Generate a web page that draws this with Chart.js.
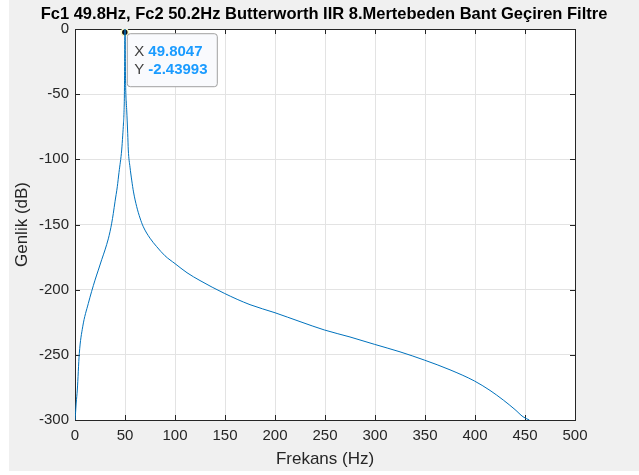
<!DOCTYPE html>
<html>

<head>
    <meta charset='utf-8'>
    <title>Butterworth IIR Bant Geciren Filtre</title>
    <script src="https://cdn.jsdelivr.net/npm/chart.js@4.4.0/dist/chart.umd.min.js"></script>
    <style>
        body { margin: 0; background: #fff; }
        canvas { display: block; }
    </style>
</head>

<body>
    <canvas id="myChart" width="639" height="475" style="width:639px;height:475px"></canvas>
    <script>
        const ctx = document.getElementById('myChart').getContext('2d');

        // genlik yaniti
        const frekans = [0, 0.5, 1.2, 2.3, 4.3, 7.7, 13.3, 20, 23.3, 26.7, 30, 33.3, 35, 36.7, 38.3, 40, 42.3, 44,
            46.7, 47.7, 48.5, 49, 49.4, 49.65, 49.8047, 50, 50.2, 50.35, 50.7, 51.2, 51.7, 52.7, 53.3, 55, 56.7,
            58.5, 61.7, 65, 68.3, 75, 81.7, 90, 100, 112, 125, 149.3, 175, 200, 225, 249.3, 275, 299.3, 325, 349.3,
            375, 399.3, 415, 428.3, 440, 448, 454.3];
        const genlik = [-300, -295, -287, -277, -249, -228.5, -210.6, -192.7, -185, -177, -169.5, -161, -155.5,
            -149, -141.5, -132.5, -121, -110, -92.8, -82, -72, -64, -50, -25, -2.44, -0.05, -3.1, -25, -45, -55,
            -62, -80, -92.8, -106, -115.9, -125, -136.3, -145, -151.7, -160.5, -167, -174, -180, -187, -193, -202.8,
            -211.5, -217.7, -224.5, -230.9, -236.3, -241.9, -247.7, -254, -261.5, -270, -277.3, -284.7, -292,
            -297.5, -300];

        // veri ipucu (data tip)
        const tipX = 49.8047;
        const tipY = -2.43993;
        const tipLabels = ['49.8047', '-2.43993'];

        const baslik = 'Fc1 49.8Hz, Fc2 50.2Hz Butterworth IIR 8.Mertebeden Bant Geçiren Filtre';
        const xBaslik = 'Frekans (Hz)';
        const yBaslik = 'Genlik (dB)';

        const fontAdi = "'Liberation Sans', Arial, sans-serif";
        const yaziRengi = '#262626';

        const matlabPlugin = {
            id: 'matlab',
            beforeDraw(chart) {
                const c = chart.ctx;
                const a = chart.chartArea;
                c.save();
                c.fillStyle = '#f0f0f0';
                c.fillRect(9, 0, 630, 471);
                c.fillStyle = '#ffffff';
                c.fillRect(a.left, a.top, a.right - a.left, a.bottom - a.top);
                c.restore();
            },
            beforeDatasetsDraw(chart) {
                // iceri bakan tick cizgileri, dort kenarda
                const c = chart.ctx;
                const a = chart.chartArea;
                const xs = chart.scales.x, ys = chart.scales.y;
                c.save();
                c.strokeStyle = yaziRengi;
                c.lineWidth = 1;
                c.beginPath();
                xs.ticks.forEach(t => {
                    const px = Math.round(xs.getPixelForValue(t.value)) + 0.5;
                    c.moveTo(px, a.bottom); c.lineTo(px, a.bottom - 5);
                    c.moveTo(px, a.top); c.lineTo(px, a.top + 5);
                });
                ys.ticks.forEach(t => {
                    const py = Math.round(ys.getPixelForValue(t.value)) + 0.5;
                    c.moveTo(a.left, py); c.lineTo(a.left + 5, py);
                    c.moveTo(a.right, py); c.lineTo(a.right - 5, py);
                });
                c.stroke();
                c.restore();
            },
            afterDraw(chart) {
                const c = chart.ctx;
                const px = chart.scales.x.getPixelForValue(tipX);
                const py = chart.scales.y.getPixelForValue(tipY);
                const bx = px + 2, by = py + 1, bw = 90, bh = 53;
                c.save();
                c.beginPath();
                c.roundRect(bx + 0.5, by + 0.5, bw, bh, 3);
                c.fillStyle = '#f9fafd';
                c.fill();
                c.strokeStyle = '#a0a0a0';
                c.lineWidth = 1;
                c.stroke();
                c.textBaseline = 'middle';
                ['X', 'Y'].forEach((k, i) => {
                    const ty = by + 18.5 + i * 18;
                    c.font = '15px ' + fontAdi;
                    c.fillStyle = '#404040';
                    c.fillText(k, bx + 7.5, ty);
                    c.font = 'bold 15px ' + fontAdi;
                    c.fillStyle = '#1a9bff';
                    c.fillText(tipLabels[i], bx + 21.5, ty);
                });
                c.restore();
            }
        };

        const myChart = new Chart(ctx, {
            type: 'line',
            data: {
                datasets: [{
                    label: 'genlik',
                    data: frekans.map((f, i) => ({ x: f, y: genlik[i] })),
                    borderColor: '#0072bd',
                    borderWidth: 1,
                    pointRadius: 0,
                    cubicInterpolationMode: 'monotone',
                    fill: false,
                }, {
                    label: 'tip',
                    data: [{ x: tipX, y: tipY }],
                    showLine: false,
                    pointRadius: 3.5,
                    pointBackgroundColor: '#111111',
                    pointBorderColor: '#ffffc8',
                    pointBorderWidth: 1.5,
                }]
            },
            options: {
                responsive: false,
                animation: false,
                layout: { padding: { left: 9, right: 0, top: 0, bottom: 0 } },
                plugins: {
                    legend: { display: false },
                    tooltip: { enabled: false },
                    title: {
                        display: true,
                        text: baslik,
                        color: '#000000',
                        font: { family: fontAdi, size: 16.5, weight: 'bold', lineHeight: 1.25 },
                        padding: { top: 4, bottom: 0 },
                    },
                },
                scales: {
                    x: {
                        type: 'linear',
                        position: 'bottom',
                        min: 0,
                        max: 500,
                        ticks: { stepSize: 50, color: yaziRengi, font: { family: fontAdi, size: 15 }, padding: 7, maxRotation: 0 },
                        grid: { color: '#e3e3e3', drawTicks: false },
                        border: { color: yaziRengi, width: 1 },
                        title: { display: true, text: xBaslik, color: yaziRengi, font: { family: fontAdi, size: 17 }, padding: { top: 0, bottom: 5 } },
                        afterFit: s => { s.height = 55; },
                    },
                    x2: {
                        type: 'linear',
                        position: 'top',
                        min: 0,
                        max: 500,
                        ticks: { display: false },
                        grid: { display: false, drawTicks: false },
                        border: { color: yaziRengi, width: 1 },
                        afterFit: s => { s.height = 4.4; },
                    },
                    y: {
                        type: 'linear',
                        position: 'left',
                        min: -300,
                        max: 0,
                        ticks: { stepSize: 50, color: yaziRengi, font: { family: fontAdi, size: 15 }, padding: 6 },
                        grid: { color: '#e3e3e3', drawTicks: false },
                        border: { color: yaziRengi, width: 1 },
                        title: { display: true, text: yBaslik, color: yaziRengi, font: { family: fontAdi, size: 17 }, padding: { top: 3, bottom: 0 } },
                        afterFit: s => { s.width = 66; },
                    },
                    y2: {
                        type: 'linear',
                        position: 'right',
                        min: -300,
                        max: 0,
                        ticks: { display: false },
                        grid: { display: false, drawTicks: false },
                        border: { color: yaziRengi, width: 1 },
                        afterFit: s => { s.width = 64; },
                    },
                }
            },
            plugins: [matlabPlugin]
        });
    </script>
</body>

</html>
